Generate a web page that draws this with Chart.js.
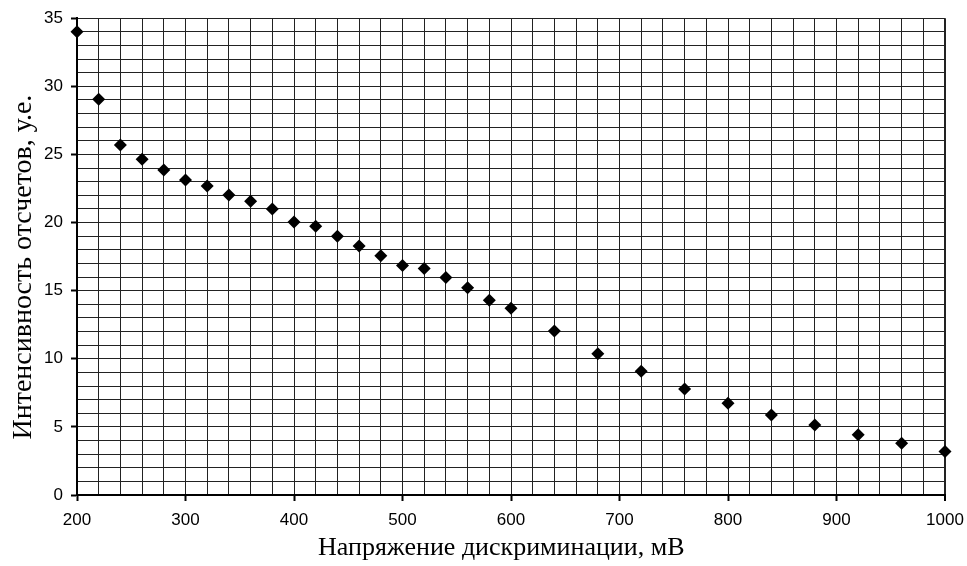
<!DOCTYPE html>
<html>
<head>
<meta charset="utf-8">
<script src="https://cdn.jsdelivr.net/npm/chart.js@4"></script>
<style>
  html, body { margin:0; padding:0; background:#fff; }
  #wrap { width:967px; height:566px; }
</style>
</head>
<body>
<div id="wrap"><canvas id="c"></canvas></div>
<script>
// discrimination voltage, mV
const voltage = [200,220,240,260,280,300,320,340,360,380,400,420,440,460,480,500,520,540,560,580,600,
                 640,680,720,760,800,840,880,920,960,1000];
// count intensity, a.u.
const intensity = [34.0,29.05,25.7,24.65,23.86,23.13,22.69,22.03,21.56,21.0,20.04,19.73,19.0,18.28,17.57,16.84,16.62,15.96,15.22,14.29,13.71,
                   12.04,10.36,9.08,7.78,6.73,5.87,5.14,4.43,3.8,3.2];
const xLabelStep = 100;
const yLabelStep = 5;

// trailing nbsp just nudge the centred titles the way the original sits
const xTitle = 'Напряжение дискриминации, мВ\u00a0\u00a0\u00a0';
const yTitle = 'Интенсивность отсчетов, у.е.\u00a0\u00a0\u00a0';

const tickFont = { family:'Liberation Sans, Arial, sans-serif', size:17 };

const pts = voltage.map((v,i)=>({ x:v, y:intensity[i] }));

new Chart(document.getElementById('c'), {
  type:'scatter',
  data:{ datasets:[{
    data:pts,
    pointStyle:'rectRot',
    pointRadius:6.5,
    pointHoverRadius:6.5,
    backgroundColor:'#000',
    borderColor:'#000',
    borderWidth:0,
    clip:false
  }]},
  options:{
    responsive:true,
    maintainAspectRatio:false,
    animation:false,
    layout:{ padding:{ left:0, top:17, right:22, bottom:0 } },
    plugins:{ legend:{ display:false }, tooltip:{ enabled:false } },
    scales:{
      x:{
        type:'linear', min:200, max:1000,
        afterFit(s){ s.height = 71; s.paddingLeft = 0; s.paddingRight = 0; },
        border:{ color:'#000', width:2 },
        grid:{
          color:'#222',
          lineWidth: ctx => (ctx.tick && ctx.tick.value===1000) ? 2 : 1,
          drawTicks:true, tickLength:6,
          tickColor: ctx => (ctx.tick && ctx.tick.value % xLabelStep === 0) ? '#000' : 'rgba(0,0,0,0)',
          tickWidth:2
        },
        ticks:{
          stepSize:20, autoSkip:false, maxRotation:0, color:'#000', font:tickFont, padding:9,
          callback: v => (v % xLabelStep === 0) ? v : ''
        },
        title:{ display:true, text:xTitle, color:'#000',
          font:{ family:'Liberation Serif, Times New Roman, serif', size:26 },
          padding:{ top:0, bottom:2 } }
      },
      y:{
        min:0, max:35,
        afterFit(s){ s.width = 77; },
        border:{ color:'#000', width:2 },
        grid:{
          color:'#222', lineWidth:1,
          drawTicks:true, tickLength:6,
          tickColor: ctx => (ctx.tick && ctx.tick.value % yLabelStep === 0) ? '#000' : 'rgba(0,0,0,0)',
          tickWidth:2
        },
        ticks:{
          stepSize:1, autoSkip:false, color:'#000', font:tickFont, padding:8,
          callback: v => (v % yLabelStep === 0) ? v : ''
        },
        title:{ display:true, text:yTitle, color:'#000',
          font:{ family:'Liberation Serif, Times New Roman, serif', size:28 },
          padding:{ top:7, bottom:0 } }
      }
    }
  }
});
</script>
</body>
</html>
